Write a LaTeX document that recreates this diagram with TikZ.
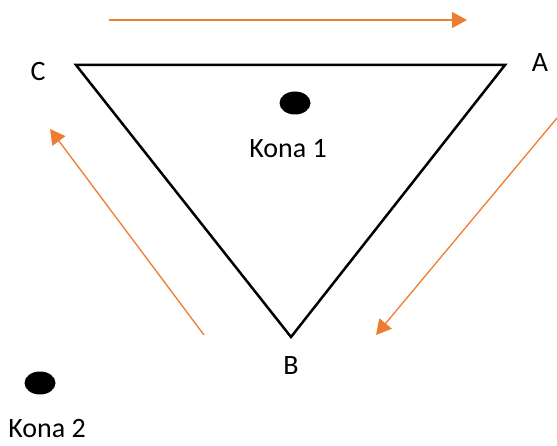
\documentclass[tikz,border=0pt]{standalone}
\usepackage{fontspec}
\setmainfont{Carlito}
\usetikzlibrary{arrows.meta,positioning,shapes.geometric}
\definecolor{flow}{RGB}{237,125,49}

\begin{document}
\begin{tikzpicture}[
  x=1pt, y=-1pt,
  font=\fontsize{28}{34}\selectfont,
  side/.style={draw, line width=2.5pt, line join=miter},
  corner/.style={inner sep=0pt, anchor=base},
  cone/.style={fill=black, ellipse, minimum width=31pt, minimum height=23pt, inner sep=0pt},
  walk/.style={flow, line width=1.3pt, -{Triangle[length=15pt, width=16pt]}}
]
\useasboundingbox (0,0) rectangle (557,446);
% --- triangle --------------------------------------------------------------
\coordinate (C) at (76,65);
\coordinate (A) at (505,65);
\coordinate (B) at (291,337);
\draw[side] (C) -- (A) -- (B) -- cycle;

\node[corner] (lc) at (38,81)  {C};
\node[corner] (la) at (540,72) {A};
\node[corner] (lb) at (291,374) {B};

% --- cones -----------------------------------------------------------------
\node[cone] (k1) at (295,103) {};
\node[corner] (t1) at (288,158) {Kona 1};
\node[cone] (k2) at (40,383) {};
\node[corner] (t2) at (47,437) {Kona 2};

% --- direction arrows ------------------------------------------------------
\coordinate (s1) at (109,20);  \coordinate (e1) at (467,20);
\coordinate (s2) at (557,118); \coordinate (e2) at (376,335);
\coordinate (s3) at (204,335); \coordinate (e3) at (50,129);
\draw[walk] (s1) -- (e1);
\draw[walk] (s2) -- (e2);
\draw[walk] (s3) -- (e3);
\end{tikzpicture}
\end{document}
